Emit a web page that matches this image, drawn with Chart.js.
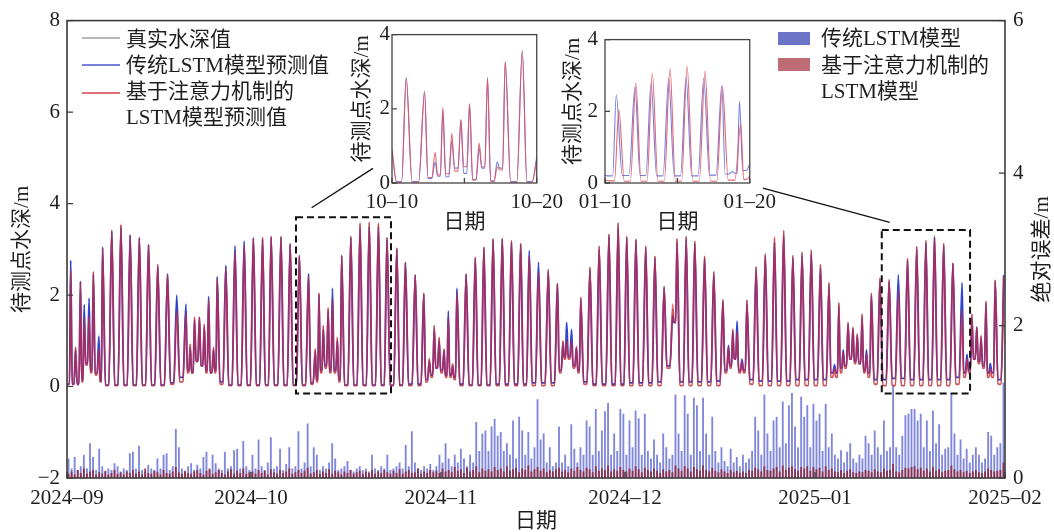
<!DOCTYPE html>
<html>
<head>
<meta charset="utf-8">
<script src="https://cdn.jsdelivr.net/npm/chart.js@4"></script>
<style>
  body { margin: 0; background: #fff; }
  #wrap { position: relative; width: 1054px; height: 532px; }
  #main { position: absolute; left: 0; top: 0; }
  #ins1 { position: absolute; left: 340px; top: 20px; }
  #ins2 { position: absolute; left: 553px; top: 20px; }
</style>
</head>
<body>
<div id="wrap">
  <canvas id="main" width="1054" height="532"></canvas>
  <canvas id="ins1" width="230" height="215"></canvas>
  <canvas id="ins2" width="230" height="215"></canvas>
</div>
<script>
// x axis: days since 2024-09-01
const monthDays = [0, 30, 61, 91, 122, 153];
const monthLabels = ['2024–09', '2024–10', '2024–11', '2024–12', '2025–01', '2025–02'];

// crest times (days) and crest heights (m); first entry is the start of the record
const peakDay = [0,
  0.6, 1.4, 2.2, 2.8, 3.6, 4.3, 5.2, 5.8, 7.3, 8.8,
  10.3, 11.8, 13.3, 14.8, 16.4, 17.9, 19.4, 20.1, 20.8, 21.6,
  22.4, 23.1, 23.9, 24.5, 25.9, 27.4, 28.9, 30.4, 31.9, 33.3,
  34.9, 36.4, 37.9, 39.4, 40.5, 41.1, 41.8, 42.6, 43.3, 44.1,
  44.8, 46.3, 47.8, 49.3, 50.8, 52.2, 53.8, 55.2, 56.8, 58.2,
  59.1, 59.9, 60.7, 61.5, 62.2, 62.9, 63.6, 65.1, 66.6, 68.0,
  69.5, 71.0, 72.5, 74.0, 75.4, 76.9, 78.5, 80.0, 80.9, 81.5,
  82.3, 83.1, 83.8, 85.3, 86.8, 88.4, 89.9, 91.3, 92.8, 94.4,
  95.9, 97.4, 98.8, 99.5, 101.0, 102.4, 104.0, 105.5, 107.0, 107.9,
  108.6, 109.3, 110.1, 110.9, 112.4, 113.9, 115.4, 116.9, 118.4, 119.9,
  121.4, 122.9, 124.3, 125.2, 125.9, 126.6, 127.4, 128.2, 128.9, 129.7,
  130.4, 131.2, 132.6, 134.1, 135.6, 137.1, 138.6, 140.1, 141.5, 143.0,
  144.5, 146.0, 146.8, 147.6, 148.4, 149.1, 149.9, 150.6, 151.4, 152.8];

const truePeak = [0.05,
  2.62, 0.86, 2.30, 1.62, 1.70, 2.51, 0.90, 3.02, 3.42, 3.53,
  3.31, 3.26, 3.10, 2.67, 2.46, 1.75, 1.65, 0.93, 1.50, 1.52,
  1.36, 1.92, 0.86, 2.37, 2.62, 3.00, 3.12, 3.25, 3.26, 3.28,
  3.28, 3.13, 2.87, 2.45, 0.82, 2.04, 1.33, 1.72, 1.95, 1.07,
  2.87, 3.28, 3.56, 3.58, 3.56, 3.26, 3.03, 2.72, 2.44, 2.04,
  0.61, 1.33, 1.07, 0.82, 1.55, 0.50, 2.10, 2.46, 2.83, 3.05,
  3.23, 3.24, 3.19, 3.13, 2.88, 2.55, 2.56, 2.26, 1.00, 1.05,
  1.05, 0.87, 1.95, 2.61, 3.07, 3.33, 3.57, 3.28, 3.22, 3.07,
  2.85, 2.19, 1.70, 3.23, 3.28, 3.18, 2.85, 2.51, 1.90, 0.86,
  1.25, 1.25, 0.54, 1.89, 2.62, 2.90, 3.25, 3.40, 2.87, 2.94,
  2.99, 2.67, 2.27, 0.40, 1.83, 0.75, 1.40, 1.29, 1.15, 1.58,
  0.72, 2.04, 2.37, 2.32, 2.15, 2.80, 3.06, 3.19, 3.30, 3.13,
  2.70, 1.70, 0.61, 1.58, 1.29, 1.11, 1.86, 0.39, 2.33, 2.44];

const lstmPeak = [0.05,
  2.76, 0.80, 2.30, 1.79, 1.93, 2.45, 1.10, 3.05, 3.38, 3.48,
  3.31, 3.24, 3.10, 2.62, 2.46, 2.00, 1.80, 0.85, 1.45, 1.50,
  1.30, 1.97, 0.80, 2.40, 2.65, 3.08, 3.18, 3.25, 3.22, 3.26,
  3.25, 3.10, 2.85, 2.47, 0.75, 2.00, 1.25, 1.65, 2.15, 1.00,
  2.85, 3.25, 3.48, 3.50, 3.50, 3.22, 3.00, 2.70, 2.44, 2.02,
  0.55, 1.25, 1.00, 0.78, 1.65, 0.45, 2.15, 2.45, 2.80, 3.02,
  3.20, 3.22, 3.15, 3.10, 2.97, 2.72, 2.50, 2.24, 0.95, 1.40,
  1.25, 0.85, 1.90, 2.55, 3.00, 3.28, 3.48, 3.25, 3.18, 3.02,
  2.80, 2.15, 1.55, 3.15, 3.22, 3.12, 2.80, 2.45, 1.85, 0.90,
  1.20, 1.43, 0.60, 1.80, 2.55, 2.85, 3.15, 3.30, 2.80, 2.86,
  2.90, 2.60, 2.20, 0.47, 1.75, 0.80, 1.35, 1.25, 1.10, 1.50,
  0.80, 1.98, 2.30, 2.30, 2.44, 2.75, 3.00, 3.12, 3.26, 3.08,
  2.68, 2.27, 0.70, 1.50, 1.30, 1.05, 1.80, 0.50, 2.30, 2.44];

const attnPeak = [0.05,
  2.54, 0.86, 2.28, 1.50, 1.55, 2.51, 0.80, 3.02, 3.42, 3.55,
  3.30, 3.26, 3.10, 2.67, 2.44, 1.65, 1.60, 0.93, 1.52, 1.52,
  1.36, 1.90, 0.86, 2.35, 2.60, 2.95, 3.08, 3.25, 3.26, 3.28,
  3.28, 3.13, 2.87, 2.40, 0.82, 2.04, 1.33, 1.72, 1.90, 1.07,
  2.87, 3.28, 3.58, 3.60, 3.57, 3.26, 3.03, 2.72, 2.44, 2.04,
  0.61, 1.33, 1.07, 0.82, 1.50, 0.50, 2.05, 2.46, 2.83, 3.05,
  3.23, 3.24, 3.19, 3.13, 2.85, 2.50, 2.56, 2.26, 1.00, 1.00,
  1.00, 0.87, 1.95, 2.61, 3.07, 3.33, 3.58, 3.28, 3.22, 3.07,
  2.85, 2.19, 1.80, 3.23, 3.28, 3.18, 2.85, 2.51, 1.90, 0.86,
  1.25, 1.20, 0.54, 1.89, 2.62, 2.90, 3.27, 3.42, 2.85, 2.92,
  2.97, 2.67, 2.27, 0.40, 1.83, 0.75, 1.40, 1.29, 1.15, 1.58,
  0.72, 2.04, 2.37, 2.35, 2.10, 2.80, 3.06, 3.19, 3.26, 3.13,
  2.70, 1.67, 0.61, 1.58, 1.29, 1.11, 1.86, 0.39, 2.33, 2.40];

// low water between consecutive crests (m)
const trueTrough = [0.05,
  0.05, 0.05, 0.10, 0.47, 0.30, 0.25, 0.10, 0.02, 0.02, 0.02,
  0.02, 0.02, 0.02, 0.02, 0.05, 0.10, 0.30, 0.30, 0.55, 0.45,
  0.30, 0.30, 0.30, 0.05, 0.02, 0.02, 0.02, 0.02, 0.02, 0.02,
  0.02, 0.02, 0.02, 0.05, 0.10, 0.30, 0.40, 0.30, 0.30, 0.10,
  0.02, 0.02, 0.02, 0.02, 0.02, 0.02, 0.02, 0.02, 0.02, 0.10,
  0.20, 0.40, 0.30, 0.20, 0.20, 0.15, 0.02, 0.02, 0.02, 0.02,
  0.02, 0.02, 0.02, 0.02, 0.02, 0.02, 0.02, 0.30, 0.60, 0.60,
  0.40, 0.30, 0.05, 0.02, 0.02, 0.02, 0.02, 0.02, 0.02, 0.02,
  0.02, 0.40, 1.40, 0.02, 0.02, 0.02, 0.02, 0.02, 0.30, 0.40,
  0.60, 0.30, 0.30, 0.05, 0.02, 0.02, 0.02, 0.02, 0.02, 0.02,
  0.02, 0.02, 0.20, 0.20, 0.30, 0.40, 0.60, 0.50, 0.50, 0.30,
  0.20, 0.05, 0.02, 0.02, 0.02, 0.02, 0.02, 0.02, 0.02, 0.02,
  0.05, 0.20, 0.30, 0.60, 0.50, 0.40, 0.20, 0.20, 0.05];

const lstmTrough = [0.05,
  0.05, 0.05, 0.15, 0.50, 0.35, 0.30, 0.12, 0.03, 0.03, 0.03,
  0.03, 0.03, 0.03, 0.03, 0.08, 0.20, 0.35, 0.30, 0.55, 0.45,
  0.35, 0.30, 0.35, 0.10, 0.03, 0.03, 0.03, 0.03, 0.03, 0.03,
  0.03, 0.03, 0.03, 0.08, 0.15, 0.35, 0.45, 0.35, 0.35, 0.15,
  0.03, 0.03, 0.03, 0.03, 0.03, 0.03, 0.03, 0.05, 0.05, 0.15,
  0.25, 0.40, 0.35, 0.25, 0.25, 0.20, 0.05, 0.03, 0.03, 0.03,
  0.05, 0.05, 0.05, 0.05, 0.08, 0.08, 0.08, 0.35, 0.65, 0.65,
  0.45, 0.35, 0.10, 0.05, 0.05, 0.05, 0.05, 0.08, 0.08, 0.08,
  0.10, 0.45, 1.40, 0.10, 0.10, 0.10, 0.10, 0.12, 0.35, 0.45,
  0.60, 0.35, 0.35, 0.15, 0.12, 0.12, 0.12, 0.12, 0.15, 0.15,
  0.15, 0.15, 0.30, 0.30, 0.40, 0.45, 0.60, 0.55, 0.50, 0.35,
  0.30, 0.15, 0.15, 0.18, 0.18, 0.15, 0.15, 0.15, 0.15, 0.15,
  0.20, 0.30, 0.35, 0.60, 0.55, 0.45, 0.30, 0.30, 0.15];

// absolute error (m), one bar every half day starting at day 0.25
const errStart = 0.25, errStep = 0.5;
const errLstm = [
  0.25, 0.12, 0.27, 0.10, 0.15, 0.30, 0.12, 0.45, 0.27, 0.10, 0.38, 0.15, 0.08, 0.12, 0.10, 0.19, 0.15, 0.08, 0.12, 0.10,
  0.32, 0.34, 0.12, 0.42, 0.10, 0.08, 0.17, 0.12, 0.10, 0.25, 0.12, 0.30, 0.32, 0.10, 0.15, 0.64, 0.40, 0.12, 0.08, 0.15,
  0.19, 0.10, 0.17, 0.12, 0.27, 0.34, 0.10, 0.30, 0.19, 0.12, 0.10, 0.34, 0.12, 0.15, 0.36, 0.38, 0.12, 0.48, 0.15, 0.10,
  0.30, 0.12, 0.50, 0.15, 0.10, 0.20, 0.53, 0.12, 0.15, 0.38, 0.10, 0.18, 0.40, 0.12, 0.15, 0.61, 0.12, 0.20, 0.71, 0.15,
  0.40, 0.30, 0.10, 0.15, 0.12, 0.20, 0.45, 0.25, 0.10, 0.12, 0.15, 0.22, 0.10, 0.08, 0.12, 0.15, 0.10, 0.12, 0.08, 0.30,
  0.12, 0.10, 0.15, 0.12, 0.30, 0.10, 0.12, 0.15, 0.20, 0.12, 0.43, 0.15, 0.61, 0.20, 0.12, 0.10, 0.15, 0.12, 0.18, 0.10,
  0.15, 0.30, 0.20, 0.45, 0.25, 0.15, 0.30, 0.20, 0.38, 0.25, 0.15, 0.30, 0.20, 0.73, 0.35, 0.58, 0.62, 0.35, 0.67, 0.77,
  0.55, 0.60, 0.35, 0.45, 0.30, 0.75, 0.25, 0.80, 0.62, 0.30, 0.60, 0.25, 0.40, 1.03, 0.50, 0.58, 0.20, 0.40, 0.15, 0.20,
  0.67, 0.20, 0.30, 0.15, 0.70, 0.38, 0.20, 0.40, 0.30, 0.75, 0.67, 0.30, 0.90, 0.35, 0.62, 0.87, 0.98, 0.30, 0.58, 0.35,
  0.90, 0.84, 0.30, 0.75, 0.40, 0.88, 0.78, 0.30, 0.84, 0.35, 0.25, 0.50, 0.30, 0.20, 0.58, 0.40, 0.25, 0.30, 1.09, 0.58,
  0.35, 1.08, 0.84, 0.30, 1.05, 0.95, 0.35, 1.05, 0.58, 0.30, 0.80, 0.35, 0.20, 0.40, 0.22, 0.15, 0.38, 0.20, 0.27, 0.15,
  0.30, 0.20, 0.25, 0.35, 0.80, 0.62, 0.30, 1.09, 0.58, 0.35, 0.75, 0.80, 0.40, 1.00, 0.45, 0.95, 1.11, 0.67, 0.40, 1.06,
  0.80, 0.95, 0.40, 0.97, 0.75, 0.84, 0.35, 0.97, 0.40, 0.58, 0.30, 0.25, 0.36, 0.20, 0.34, 0.45, 0.25, 0.20, 0.30, 0.25,
  0.55, 0.45, 0.30, 0.62, 0.40, 0.30, 0.75, 0.35, 0.40, 1.22, 0.40, 0.30, 0.55, 0.82, 0.84, 0.90, 0.90, 0.75, 0.84, 0.40,
  0.75, 0.35, 0.88, 0.45, 0.70, 0.30, 0.38, 0.40, 1.11, 0.58, 0.30, 0.50, 0.25, 0.38, 0.20, 0.30, 0.40, 0.30, 0.20, 0.25,
  0.60, 0.55, 0.30, 0.40, 0.45, 1.25];

const errAttn = [
  0.05, 0.08, 0.04, 0.10, 0.06, 0.12, 0.05, 0.08, 0.10, 0.04, 0.07, 0.05, 0.09, 0.04, 0.06, 0.10, 0.05, 0.07, 0.04, 0.08,
  0.06, 0.10, 0.05, 0.08, 0.04, 0.12, 0.06, 0.05, 0.09, 0.07, 0.04, 0.10, 0.06, 0.05, 0.08, 0.14, 0.07, 0.05, 0.09, 0.06,
  0.05, 0.08, 0.10, 0.06, 0.04, 0.09, 0.12, 0.05, 0.07, 0.10, 0.06, 0.04, 0.08, 0.11, 0.05, 0.09, 0.06, 0.12, 0.05, 0.07,
  0.08, 0.05, 0.10, 0.06, 0.09, 0.04, 0.11, 0.07, 0.05, 0.10, 0.06, 0.08, 0.12, 0.05, 0.07, 0.10, 0.06, 0.09, 0.13, 0.05,
  0.07, 0.10, 0.05, 0.08, 0.06, 0.11, 0.05, 0.09, 0.07, 0.04, 0.08, 0.06, 0.10, 0.05, 0.07, 0.09, 0.05, 0.08, 0.06, 0.10,
  0.05, 0.08, 0.06, 0.10, 0.07, 0.05, 0.09, 0.06, 0.11, 0.05, 0.08, 0.10, 0.06, 0.07, 0.12, 0.05, 0.08, 0.06, 0.10, 0.07,
  0.09, 0.06, 0.12, 0.08, 0.10, 0.07, 0.14, 0.09, 0.11, 0.06, 0.13, 0.08, 0.10, 0.15, 0.07, 0.12, 0.09, 0.11, 0.08, 0.14,
  0.10, 0.12, 0.08, 0.15, 0.09, 0.11, 0.13, 0.07, 0.12, 0.10, 0.16, 0.08, 0.11, 0.14, 0.09, 0.12, 0.07, 0.10, 0.08, 0.11,
  0.13, 0.08, 0.10, 0.07, 0.12, 0.09, 0.14, 0.10, 0.08, 0.13, 0.11, 0.07, 0.15, 0.09, 0.12, 0.10, 0.16, 0.08, 0.11, 0.09,
  0.14, 0.10, 0.08, 0.12, 0.09, 0.15, 0.11, 0.07, 0.13, 0.10, 0.08, 0.12, 0.09, 0.06, 0.11, 0.08, 0.10, 0.07, 0.16, 0.12,
  0.09, 0.15, 0.12, 0.08, 0.14, 0.11, 0.09, 0.16, 0.10, 0.08, 0.13, 0.09, 0.07, 0.11, 0.08, 0.06, 0.10, 0.07, 0.09, 0.06,
  0.08, 0.06, 0.10, 0.09, 0.13, 0.11, 0.08, 0.15, 0.10, 0.09, 0.12, 0.14, 0.08, 0.16, 0.10, 0.13, 0.15, 0.11, 0.09, 0.14,
  0.12, 0.15, 0.09, 0.14, 0.11, 0.13, 0.08, 0.15, 0.10, 0.12, 0.08, 0.07, 0.10, 0.06, 0.09, 0.11, 0.07, 0.06, 0.08, 0.07,
  0.10, 0.09, 0.07, 0.11, 0.08, 0.07, 0.12, 0.09, 0.10, 0.18, 0.08, 0.07, 0.10, 0.13, 0.12, 0.14, 0.15, 0.11, 0.13, 0.09,
  0.12, 0.08, 0.14, 0.09, 0.11, 0.07, 0.09, 0.10, 0.16, 0.11, 0.08, 0.10, 0.07, 0.09, 0.06, 0.08, 0.10, 0.07, 0.06, 0.08,
  0.12, 0.10, 0.08, 0.09, 0.10, 0.20];

// inset 1: 10-10 .. 10-20 (days since 10-10)
const ins1Labels = ['10–10', '10–20'];
const ins1Day = [0, 0.98, 2.25, 2.98, 3.51, 4.13, 4.76, 5.36, 6.02, 6.6, 7.27, 7.82, 9.0, 10];
const ins1Lstm = [0.85, 2.83, 2.45, 0.56, 1.96, 1.14, 1.70, 2.12, 0.95, 2.82, 0.57, 3.25, 3.55, 0.70];
const ins1LstmLow = [0.04, 0.04, 0.12, 0.18, 0.17, 0.40, 0.26, 0.08, 0.40, 0.06, 0.40, 0.04, 0.04];
const ins1Attn = [0.93, 2.85, 2.48, 0.83, 2.04, 1.34, 1.72, 2.14, 1.08, 2.85, 0.44, 3.28, 3.57, 0.64];
const ins1AttnLow = [0.02, 0.02, 0.15, 0.22, 0.25, 0.32, 0.44, 0.09, 0.44, 0.04, 0.35, 0.02, 0.02];

// inset 2: 01-10 .. 01-20
const ins2Labels = ['01–10', '01–20'];
const ins2LstmDay = [0, 0.78, 2.07, 3.18, 4.4, 5.6, 6.82, 8.07, 8.8, 9.29, 10];
const ins2Lstm = [0.21, 2.46, 2.68, 2.79, 2.91, 2.94, 2.93, 2.72, 0.32, 2.28, 0.53];
const ins2LstmLow = [0.20, 0.21, 0.21, 0.20, 0.20, 0.20, 0.22, 0.25, 0.27, 0.35];
const ins2AttnDay = [0, 0.96, 2.13, 3.27, 4.49, 5.67, 6.91, 8.11, 9.38, 10];
const ins2Attn = [0.08, 2.04, 2.79, 3.06, 3.19, 3.26, 3.12, 2.70, 1.64, 0.20];
const ins2AttnLow = [0.06, 0.05, 0.05, 0.05, 0.05, 0.05, 0.05, 0.08, 0.10];

// zoom boxes and connector lines in main-chart data units
const zoomBoxes = [[37.35, 52.85, -0.15, 3.70], [132.9, 147.3, -0.15, 3.42]];
const zoomLinks = [[39.9, 3.91, 49.9, 4.77], [113.5, 4.34, 134.2, 3.59]];

const FONT = '"Liberation Serif", "Noto Sans CJK SC", serif';
const INK = '#1e1e1e';
Chart.defaults.font.family = FONT;
Chart.defaults.font.size = 21;
Chart.defaults.color = INK;

// crest, flat low water, next crest
function tideLine(days, crest, low) {
  const pts = [];
  days.forEach((d, i) => {
    pts.push({ x: d, y: crest[i] });
    if (i < days.length - 1) {
      const gap = days[i + 1] - d;
      pts.push({ x: d + gap * 0.32, y: low[i] });
      pts.push({ x: d + gap * 0.68, y: low[i] });
    }
  });
  return pts;
}

const errPts = arr => arr.map((v, i) => ({ x: errStart + i * errStep, y: v }));

function vText(ctx, text, x, y) {
  ctx.save();
  ctx.translate(x, y);
  ctx.rotate(-Math.PI / 2);
  ctx.textAlign = 'center';
  ctx.textBaseline = 'middle';
  ctx.fillText(text, 0, 0);
  ctx.restore();
}

const mainDecor = {
  id: 'mainDecor',
  afterDraw(chart) {
    const { ctx, chartArea: a, scales: { x, y, y2 } } = chart;
    ctx.save();
    ctx.strokeStyle = '#3a3a3a';
    ctx.lineWidth = 1.6;
    ctx.strokeRect(a.left, a.top, a.right - a.left, a.bottom - a.top);

    ctx.lineWidth = 1.2;
    ctx.beginPath();
    y.ticks.forEach(t => {
      const p = y.getPixelForValue(t.value);
      ctx.moveTo(a.left, p); ctx.lineTo(a.left + 6, p);
    });
    y2.ticks.forEach(t => {
      const p = y2.getPixelForValue(t.value);
      ctx.moveTo(a.right, p); ctx.lineTo(a.right - 6, p);
    });
    x.ticks.forEach(t => {
      const p = x.getPixelForValue(t.value);
      ctx.moveTo(p, a.bottom); ctx.lineTo(p, a.bottom - 6);
    });
    ctx.stroke();

    // dashed zoom boxes
    ctx.strokeStyle = '#111';
    ctx.lineWidth = 2;
    ctx.setLineDash([7, 4]);
    zoomBoxes.forEach(([x0, x1, y0, y1]) => {
      const l = x.getPixelForValue(x0), r = x.getPixelForValue(x1);
      const t = y.getPixelForValue(y1), b = y.getPixelForValue(y0);
      ctx.strokeRect(l, t, r - l, b - t);
    });
    ctx.setLineDash([]);
    ctx.lineWidth = 1.3;
    ctx.beginPath();
    zoomLinks.forEach(([x0, y0, x1, y1]) => {
      ctx.moveTo(x.getPixelForValue(x0), y.getPixelForValue(y0));
      ctx.lineTo(x.getPixelForValue(x1), y.getPixelForValue(y1));
    });
    ctx.stroke();

    // legends
    ctx.font = '21px ' + FONT;
    ctx.fillStyle = INK;
    ctx.textAlign = 'left';
    ctx.textBaseline = 'middle';
    const lines = [['#a0a0a0', 38], ['#4656cc', 65], ['#d8404c', 93]];
    lines.forEach(([c, ly]) => {
      ctx.strokeStyle = c; ctx.lineWidth = 1.5;
      ctx.beginPath(); ctx.moveTo(82, ly); ctx.lineTo(120, ly); ctx.stroke();
    });
    ctx.fillText('真实水深值', 126, 40);
    ctx.fillText('传统LSTM模型预测值', 126, 66);
    ctx.fillText('基于注意力机制的', 126, 92);
    ctx.fillText('LSTM模型预测值', 126, 118);

    ctx.fillStyle = 'rgb(108,116,200)';
    ctx.fillRect(778, 32, 32, 13);
    ctx.fillStyle = 'rgb(190,108,118)';
    ctx.fillRect(778, 58, 32, 13);
    ctx.fillStyle = INK;
    ctx.fillText('传统LSTM模型', 821, 39);
    ctx.fillText('基于注意力机制的', 821, 66);
    ctx.fillText('LSTM模型', 821, 92);

    // axis titles
    ctx.textAlign = 'center';
    ctx.fillText('日期', (a.left + a.right) / 2, 521);
    vText(ctx, '待测点水深/m', 22, (a.top + a.bottom) / 2);
    vText(ctx, '绝对误差/m', 1042, (a.top + a.bottom) / 2);
    ctx.restore();
  }
};

new Chart(document.getElementById('main'), {
  type: 'line',
  data: {
    datasets: [
      { label: '基于注意力机制的LSTM模型预测值', data: tideLine(peakDay, attnPeak, trueTrough),
        borderColor: 'rgba(232,32,42,0.62)', borderWidth: 1.8, order: 1 },
      { label: '传统LSTM模型预测值', data: tideLine(peakDay, lstmPeak, lstmTrough),
        borderColor: 'rgb(48,68,205)', borderWidth: 1.8, order: 2 },
      { label: '真实水深值', data: tideLine(peakDay, truePeak, trueTrough),
        borderColor: '#8a8a8a', borderWidth: 1, order: 3 },
      { type: 'bar', label: '基于注意力机制的LSTM模型', data: errPts(errAttn), yAxisID: 'y2',
        backgroundColor: 'rgba(140,35,55,0.85)', barThickness: 1.2, grouped: false, order: 4 },
      { type: 'bar', label: '传统LSTM模型', data: errPts(errLstm), yAxisID: 'y2',
        backgroundColor: 'rgba(85,95,205,0.75)', barThickness: 1.2, grouped: false, order: 5 }
    ]
  },
  options: {
    responsive: false,
    animation: false,
    events: [],
    layout: { padding: { top: 13, left: 0, right: 0, bottom: 0 } },
    elements: {
      point: { radius: 0 },
      line: { cubicInterpolationMode: 'monotone', fill: false }
    },
    plugins: { legend: { display: false }, tooltip: { enabled: false } },
    scales: {
      x: {
        type: 'linear', min: 0, max: 153, offset: false,
        grid: { display: false, drawTicks: false, offset: false }, border: { display: false },
        afterBuildTicks: s => { s.ticks = monthDays.map(v => ({ value: v })); },
        afterFit: s => { s.height = 54; },
        ticks: { autoSkip: false, maxRotation: 0, padding: 8,
          callback: v => monthLabels[monthDays.indexOf(v)] }
      },
      y: {
        min: -2, max: 8, position: 'left',
        grid: { display: false, drawTicks: false }, border: { display: false },
        afterFit: s => { s.width = 67; },
        ticks: { stepSize: 2, padding: 7, callback: v => v < 0 ? '−' + Math.abs(v) : String(v) }
      },
      y2: {
        min: 0, max: 6, position: 'right',
        grid: { display: false, drawTicks: false }, border: { display: false },
        afterFit: s => { s.width = 49; },
        ticks: { stepSize: 2, padding: 8 }
      }
    }
  },
  plugins: [mainDecor]
});

function insetDecor(titleX) {
  return {
    id: 'insetDecor',
    afterDraw(chart) {
      const { ctx, chartArea: a, scales: { x, y } } = chart;
      ctx.save();
      ctx.strokeStyle = '#444';
      ctx.lineWidth = 1.3;
      ctx.strokeRect(a.left, a.top, a.right - a.left, a.bottom - a.top);
      ctx.beginPath();
      y.ticks.forEach(t => {
        const p = y.getPixelForValue(t.value);
        ctx.moveTo(a.left, p); ctx.lineTo(a.left + 5, p);
      });
      x.ticks.forEach(t => {
        const p = x.getPixelForValue(t.value);
        ctx.moveTo(p, a.bottom); ctx.lineTo(p, a.bottom - 5);
      });
      ctx.stroke();
      ctx.font = '21px ' + FONT;
      ctx.fillStyle = INK;
      ctx.textAlign = 'center';
      ctx.textBaseline = 'middle';
      ctx.fillText('日期', (a.left + a.right) / 2, a.bottom + 39);
      vText(ctx, '待测点水深/m', titleX, (a.top + a.bottom) / 2 - 10);
      ctx.restore();
    }
  };
}

function makeInset(id, labels, lstmDay, lstm, lstmLow, attnDay, attn, attnLow, tickPad, titleX) {
  new Chart(document.getElementById(id), {
    type: 'line',
    data: {
      datasets: [
        { data: tideLine(attnDay, attn, attnLow), borderColor: 'rgba(226,84,98,0.9)', borderWidth: 1.1 },
        { data: tideLine(lstmDay, lstm, lstmLow), borderColor: 'rgba(100,112,226,0.9)', borderWidth: 1.1 }
      ]
    },
    options: {
      responsive: false,
      animation: false,
      events: [],
      layout: { padding: { top: 13, right: 28, left: 0, bottom: 0 } },
      elements: {
        point: { radius: 0 },
        line: { cubicInterpolationMode: 'monotone', fill: false }
      },
      plugins: { legend: { display: false }, tooltip: { enabled: false } },
      scales: {
        x: {
          type: 'linear', min: 0, max: 10,
          grid: { display: false, drawTicks: false }, border: { display: false },
          afterBuildTicks: s => { s.ticks = [0, 5, 10].map(v => ({ value: v })); },
          afterFit: s => { s.height = 52; },
          ticks: { autoSkip: false, maxRotation: 0, padding: 7,
            callback: v => v === 0 ? labels[0] : v === 10 ? labels[1] : '' }
        },
        y: {
          min: 0, max: 4,
          grid: { display: false, drawTicks: false }, border: { display: false },
          afterFit: s => { s.width = 52; },
          ticks: { stepSize: 2, padding: tickPad }
        }
      }
    },
    plugins: [insetDecor(titleX)]
  });
}

makeInset('ins1', ins1Labels, ins1Day, ins1Lstm, ins1LstmLow, ins1Day, ins1Attn, ins1AttnLow, 2, 22);
makeInset('ins2', ins2Labels, ins2LstmDay, ins2Lstm, ins2LstmLow, ins2AttnDay, ins2Attn, ins2AttnLow, 7, 20);
</script>
</body>
</html>
